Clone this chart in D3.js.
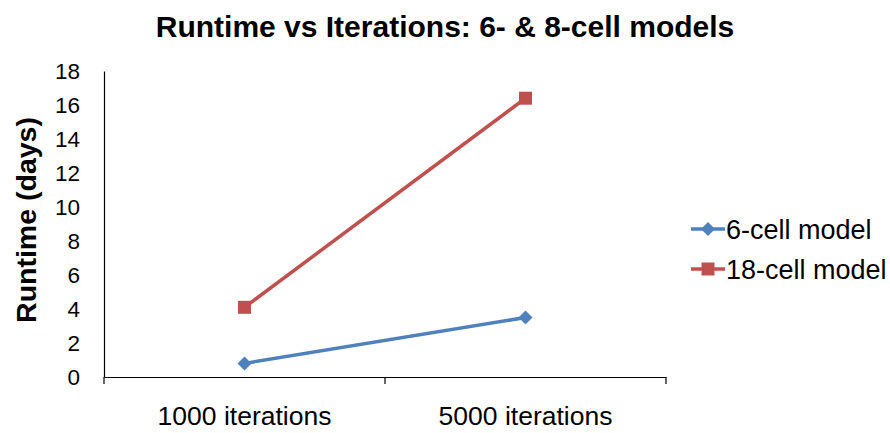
<!DOCTYPE html>
<html>
<head>
<meta charset="utf-8">
<script src="https://d3js.org/d3.v7.min.js"></script>
<style>
  body { margin: 0; background: #fff; }
  text { font-family: "Liberation Sans", Arial, sans-serif; fill: #000; }
</style>
</head>
<body>
<script>
  var categories = ['1000 iterations', '5000 iterations'];
  var seriesNames = ['6-cell model', '18-cell model'];
  var sixCell = [0.8, 3.5];
  var eighteenCell = [4.1, 16.4];
  var yTicks = [0, 2, 4, 6, 8, 10, 12, 14, 16, 18];

  var W = 890, H = 433;
  var svg = d3.select('body').append('svg').attr('width', W).attr('height', H);

  var x = d3.scaleBand().domain(categories).range([104, 666]);
  var y = d3.scaleLinear().domain([0, 18]).range([377, 71]);

  var series = [
    { name: seriesNames[0], values: sixCell, color: '#4F81BD', marker: 'diamond' },
    { name: seriesNames[1], values: eighteenCell, color: '#C0504D', marker: 'square' }
  ];

  // title
  svg.append('text').attr('x', 445).attr('y', 37).attr('text-anchor', 'middle')
    .style('font-size', '30px').style('font-weight', 'bold')
    .text('Runtime vs Iterations: 6- & 8-cell models');

  // y axis
  var yAxis = svg.append('g').attr('transform', 'translate(104,0)')
    .call(d3.axisLeft(y).tickValues(yTicks).tickSize(0).tickPadding(24));
  yAxis.select('.domain').attr('stroke', '#000').attr('stroke-width', 1.2);
  yAxis.selectAll('text').style('font-size', '22.5px');

  // x axis
  var xAxis = svg.append('g').attr('transform', 'translate(0,377)')
    .call(d3.axisBottom(x).tickSize(0).tickPadding(29));
  xAxis.select('.domain').attr('stroke', '#000').attr('stroke-width', 1.2);
  xAxis.selectAll('text').style('font-size', '26.5px');
  // category boundary ticks
  var bounds = [104, 104 + x.bandwidth(), 666];
  xAxis.selectAll('.bound').data(bounds).enter().append('line')
    .attr('x1', function(d){ return d; }).attr('x2', function(d){ return d; })
    .attr('y1', 0).attr('y2', 7).attr('stroke', '#000').attr('stroke-width', 1.2);

  svg.append('text')
    .attr('transform', 'translate(36,220) rotate(-90)')
    .attr('text-anchor', 'middle')
    .style('font-size', '28.5px').style('font-weight', 'bold')
    .text('Runtime (days)');

  var line = d3.line()
    .x(function(d, i){ return x(categories[i]) + x.bandwidth() / 2; })
    .y(function(d){ return y(d); });

  function drawMarker(g, type, cx, cy, color) {
    if (type === 'diamond') {
      g.append('path')
        .attr('d', 'M' + cx + ',' + (cy - 7) + 'L' + (cx + 7) + ',' + cy + 'L' + cx + ',' + (cy + 7) + 'L' + (cx - 7) + ',' + cy + 'Z')
        .attr('fill', color);
    } else {
      g.append('rect').attr('x', cx - 6.5).attr('y', cy - 6.5).attr('width', 13).attr('height', 13)
        .attr('fill', color);
    }
  }

  series.forEach(function(s) {
    svg.append('path').datum(s.values)
      .attr('d', line).attr('fill', 'none')
      .attr('stroke', s.color).attr('stroke-width', 3.5);
    var g = svg.append('g');
    s.values.forEach(function(v, i) {
      drawMarker(g, s.marker, x(categories[i]) + x.bandwidth() / 2, y(v), s.color);
    });
  });

  // legend
  series.forEach(function(s, i) {
    var ly = 229 + i * 40;
    var g = svg.append('g');
    g.append('line').attr('x1', 691).attr('x2', 725).attr('y1', ly).attr('y2', ly)
      .attr('stroke', s.color).attr('stroke-width', 3.5);
    drawMarker(g, s.marker, 708, ly, s.color);
    g.append('text').attr('x', 726).attr('y', ly + 10).style('font-size', '27px').text(s.name);
  });
</script>
</body>
</html>
